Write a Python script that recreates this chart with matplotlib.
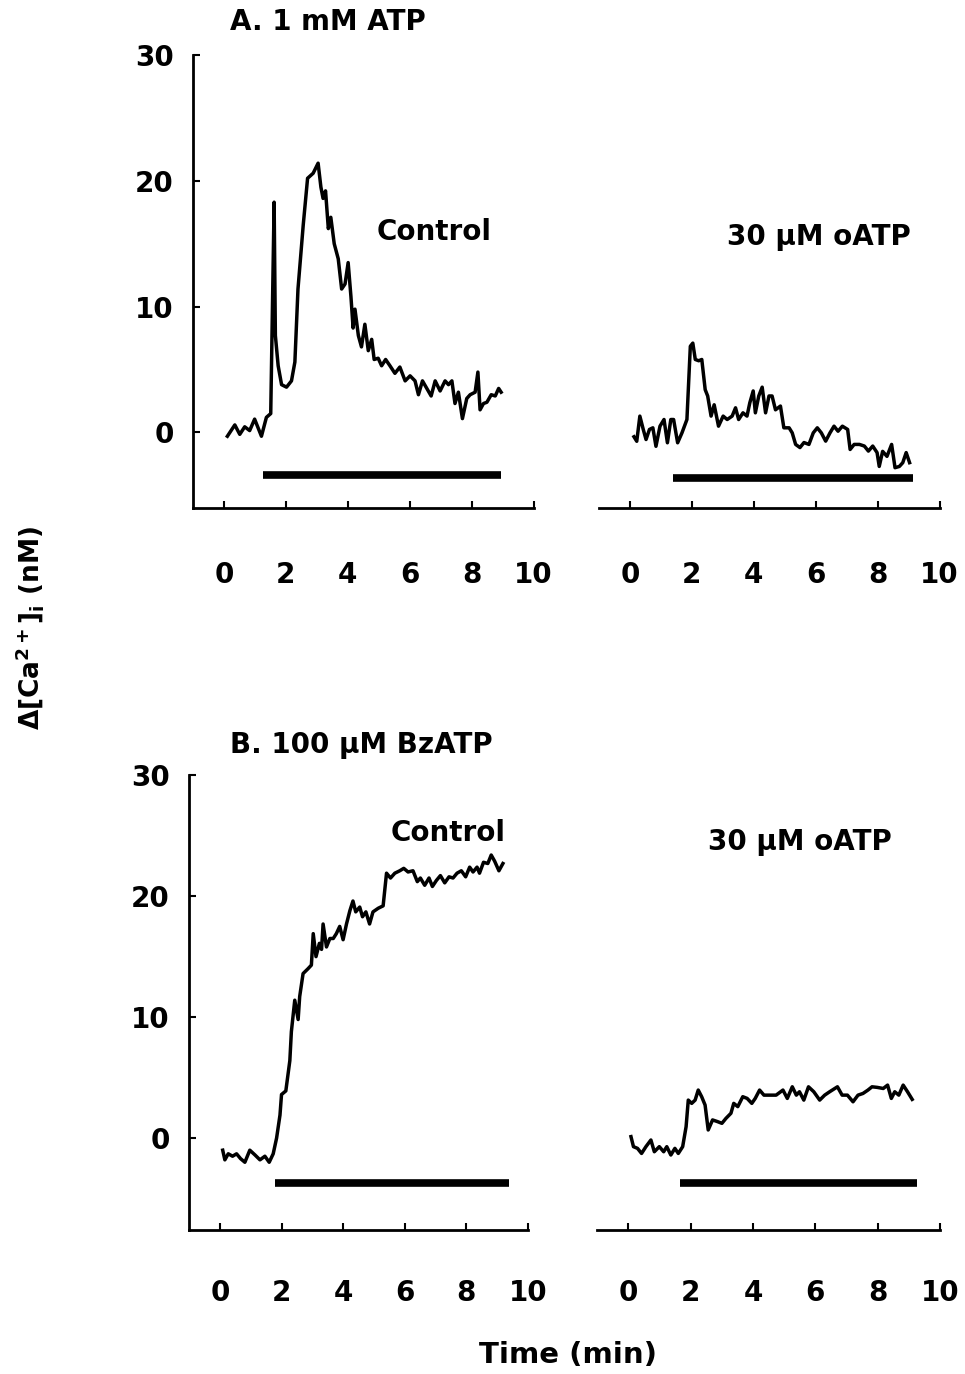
import matplotlib as mpl
mpl.use('Agg')
import matplotlib.pyplot as plt
from matplotlib import rcParams

rcParams['font.family'] = ['DejaVu Sans']
rcParams['font.weight'] = 'bold'
rcParams['mathtext.fontset'] = 'dejavusans'
rcParams['mathtext.default'] = 'bf'

# ── Data (time in min, delta Ca in nM) ────────────────────────────────────
# A. 1 mM ATP, control
a_ctrl_t = [0.11, 0.35, 0.51, 0.67, 0.83, 0.99, 1.21, 1.37, 1.51, 1.62, 1.66, 1.75,
            1.86, 2.02, 2.18, 2.29, 2.39, 2.56, 2.70, 2.88, 3.04, 3.13, 3.20, 3.28,
            3.37, 3.45, 3.56, 3.69, 3.80, 3.91, 4.01, 4.10, 4.17, 4.23, 4.34, 4.44,
            4.55, 4.66, 4.77, 4.85, 4.98, 5.09, 5.22, 5.36, 5.52, 5.68, 5.85, 6.01,
            6.17, 6.28, 6.41, 6.55, 6.69, 6.82, 6.98, 7.14, 7.25, 7.36, 7.46, 7.57,
            7.70, 7.84, 7.95, 8.11, 8.20, 8.27, 8.38, 8.49, 8.63, 8.76, 8.87, 8.95]
a_ctrl_y = [-0.3, 0.6, -0.15, 0.45, 0.15, 1.06, -0.3, 1.2, 1.5, 18.3, 7.7, 5.3,
            3.8, 3.6, 4.1, 5.6, 11.4, 16.5, 20.2, 20.6, 21.4, 19.5, 18.6, 19.2,
            16.2, 17.1, 15.0, 13.8, 11.4, 11.8, 13.5, 10.8, 8.3, 9.8, 7.7, 6.8,
            8.6, 6.5, 7.4, 5.8, 5.9, 5.3, 5.8, 5.3, 4.7, 5.2, 4.1, 4.5,
            4.1, 3.0, 4.1, 3.5, 2.9, 4.1, 3.3, 4.1, 3.8, 4.1, 2.3, 3.2,
            1.1, 2.7, 3.0, 3.2, 4.8, 1.8, 2.3, 2.4, 3.0, 2.9, 3.5, 3.2]

# A. 1 mM ATP, 30 uM oATP
a_oatp_t = [0.13, 0.22, 0.32, 0.43, 0.52, 0.63, 0.74, 0.84, 0.97, 1.10, 1.21, 1.32,
            1.41, 1.54, 1.68, 1.84, 1.95, 2.03, 2.11, 2.22, 2.32, 2.43, 2.51, 2.62,
            2.72, 2.86, 3.01, 3.14, 3.30, 3.41, 3.51, 3.65, 3.78, 3.87, 3.98, 4.05,
            4.16, 4.27, 4.38, 4.49, 4.59, 4.70, 4.86, 4.97, 5.14, 5.24, 5.35, 5.49,
            5.62, 5.78, 5.92, 6.05, 6.18, 6.32, 6.46, 6.59, 6.72, 6.86, 7.03, 7.11,
            7.24, 7.41, 7.57, 7.70, 7.84, 7.98, 8.05, 8.16, 8.30, 8.45, 8.56, 8.70,
            8.81, 8.92, 9.03]
a_oatp_y = [-0.34, -0.7, 1.3, 0.24, -0.56, 0.24, 0.37, -1.1, 0.5, 1.03, -0.82, 1.03,
            1.03, -0.82, -0.03, 1.03, 6.85, 7.1, 5.8, 5.7, 5.8, 3.4, 2.9, 1.3,
            2.2, 0.5, 1.3, 1.03, 1.3, 1.96, 1.03, 1.56, 1.3, 2.35, 3.3, 1.56,
            2.9, 3.6, 1.56, 2.9, 2.9, 1.8, 2.1, 0.37, 0.37, -0.03, -0.95, -1.2,
            -0.8, -0.95, -0.03, 0.37, -0.03, -0.69, -0.03, 0.5, 0.1, 0.5, 0.24, -1.35,
            -0.95, -0.95, -1.08, -1.48, -1.08, -1.6, -2.7, -1.5, -1.9, -0.95, -2.8, -2.7,
            -2.4, -1.6, -2.4]

# B. 100 uM BzATP, control
b_ctrl_t = [0.09, 0.16, 0.27, 0.41, 0.54, 0.67, 0.81, 0.97, 1.14, 1.30, 1.46, 1.60,
            1.73, 1.84, 1.95, 2.00, 2.14, 2.27, 2.32, 2.43, 2.54, 2.59, 2.70, 2.86,
            2.97, 3.03, 3.12, 3.23, 3.30, 3.35, 3.46, 3.57, 3.68, 3.78, 3.89, 4.00,
            4.11, 4.22, 4.32, 4.41, 4.54, 4.63, 4.74, 4.86, 4.97, 5.14, 5.30, 5.41,
            5.54, 5.68, 5.84, 5.97, 6.11, 6.27, 6.41, 6.51, 6.65, 6.79, 6.90, 7.03,
            7.16, 7.30, 7.44, 7.57, 7.70, 7.84, 7.98, 8.11, 8.22, 8.35, 8.43, 8.56,
            8.70, 8.81, 8.92, 9.06, 9.19]
b_ctrl_y = [-1.0, -1.8, -1.3, -1.5, -1.3, -1.7, -2.0, -1.0, -1.4, -1.8, -1.5, -2.0,
            -1.3, 0.0, 1.9, 3.6, 3.9, 6.4, 8.8, 11.4, 9.8, 11.7, 13.6, 14.0,
            14.3, 16.9, 15.0, 16.1, 15.6, 17.7, 15.8, 16.5, 16.5, 16.9, 17.5, 16.4,
            17.7, 18.8, 19.6, 18.7, 19.1, 18.3, 18.7, 17.7, 18.7, 19.0, 19.2, 21.9,
            21.5, 21.9, 22.1, 22.3, 22.0, 22.1, 21.2, 21.5, 20.9, 21.5, 20.8, 21.3,
            21.7, 21.1, 21.6, 21.5, 21.9, 22.1, 21.6, 22.4, 22.0, 22.4, 21.9, 22.8,
            22.7, 23.4, 22.9, 22.1, 22.7]

# B. 100 uM BzATP, 30 uM oATP
b_oatp_t = [0.08, 0.16, 0.29, 0.42, 0.56, 0.72, 0.83, 0.99, 1.13, 1.23, 1.36, 1.49,
            1.60, 1.74, 1.85, 1.92, 2.03, 2.14, 2.24, 2.35, 2.46, 2.56, 2.70, 2.86,
            3.00, 3.13, 3.29, 3.38, 3.51, 3.67, 3.81, 3.96, 4.07, 4.21, 4.35, 4.53,
            4.74, 4.96, 5.10, 5.26, 5.39, 5.49, 5.63, 5.78, 5.95, 6.14, 6.30, 6.46,
            6.71, 6.86, 7.03, 7.21, 7.37, 7.53, 7.69, 7.82, 7.99, 8.18, 8.32, 8.44,
            8.55, 8.68, 8.82, 8.96, 9.11]
b_oatp_y = [0.12, -0.71, -0.85, -1.27, -0.71, -0.16, -1.13, -0.71, -1.13, -0.71, -1.4, -0.85,
            -1.27, -0.71, 0.94, 3.14, 2.87, 3.14, 3.97, 3.42, 2.73, 0.67, 1.5, 1.36,
            1.22, 1.63, 2.05, 2.87, 2.6, 3.42, 3.28, 2.87, 3.28, 3.97, 3.55, 3.55,
            3.55, 3.97, 3.28, 4.24, 3.55, 3.83, 3.14, 4.24, 3.83, 3.14, 3.55, 3.83,
            4.24, 3.55, 3.55, 3.0, 3.55, 3.69, 3.97, 4.24, 4.19, 4.1, 4.38, 3.28,
            3.83, 3.55, 4.38, 3.83, 3.2]

# agonist application bars: [start, end] in min, level in nM
a_ctrl_bar, a_ctrl_bar_y = [1.25, 8.95], -3.4
a_oatp_bar, a_oatp_bar_y = [1.40, 9.15], -3.6
b_ctrl_bar, b_ctrl_bar_y = [1.78, 9.38], -3.7
b_oatp_bar, b_oatp_bar_y = [1.66, 9.25], -3.7

x_ticks = [0, 2, 4, 6, 8, 10]
y_ticks = [0, 10, 20, 30]

FS = 20
LW_AX = 2.0

fig = plt.figure(figsize=(9.65, 13.74), dpi=100)

ax_a1 = fig.add_axes([0.200, 0.6303, 0.353, 0.3297])
ax_a2 = fig.add_axes([0.6207, 0.6303, 0.353, 0.3297])
ax_b1 = fig.add_axes([0.196, 0.1048, 0.351, 0.3310])
ax_b2 = fig.add_axes([0.619, 0.1048, 0.355, 0.3310])

panels = [
    (ax_a1, a_ctrl_t, a_ctrl_y, a_ctrl_bar, a_ctrl_bar_y, (-6, 30), True, 38),
    (ax_a2, a_oatp_t, a_oatp_y, a_oatp_bar, a_oatp_bar_y, (-6, 30), False, 38),
    (ax_b1, b_ctrl_t, b_ctrl_y, b_ctrl_bar, b_ctrl_bar_y, (-7.6, 30), True, 35),
    (ax_b2, b_oatp_t, b_oatp_y, b_oatp_bar, b_oatp_bar_y, (-7.6, 30), False, 35),
]

for ax, t, y, bar, bar_y, ylim, show_y, xpad in panels:
    ax.plot(t, y, color='black', lw=2.5, solid_joinstyle='round')
    ax.plot(bar, [bar_y, bar_y], color='black', lw=5.5, solid_capstyle='butt')
    ax.set_xlim(-1, 10)
    ax.set_ylim(*ylim)
    ax.set_xticks(x_ticks)
    ax.spines['top'].set_visible(False)
    ax.spines['right'].set_visible(False)
    ax.spines['bottom'].set_linewidth(LW_AX)
    ax.spines['left'].set_linewidth(LW_AX)
    ax.tick_params(axis='x', direction='in', length=5, width=1.5,
                   pad=xpad, labelsize=FS)
    if show_y:
        ax.set_yticks(y_ticks)
        ax.tick_params(axis='y', direction='in', length=5, width=1.5,
                       pad=14, labelsize=FS)
    else:
        ax.spines['left'].set_visible(False)
        ax.set_yticks([])
    for lab in ax.get_xticklabels() + ax.get_yticklabels():
        lab.set_fontweight('bold')

ax_a1.text(6.8, 15.9, 'Control', ha='center', va='center', fontsize=FS, fontweight='bold')
ax_a2.text(6.1, 15.5, '30 µM oATP', ha='center', va='center', fontsize=FS, fontweight='bold')
ax_b1.text(7.4, 25.2, 'Control', ha='center', va='center', fontsize=FS, fontweight='bold')
ax_b2.text(5.5, 24.5, '30 µM oATP', ha='center', va='center', fontsize=FS, fontweight='bold')

fig.text(230 / 965, 1 - 22 / 1374, 'A. 1 mM ATP', ha='left', va='center',
         fontsize=FS, fontweight='bold')
fig.text(230 / 965, 1 - 745 / 1374, 'B. 100 µM BzATP', ha='left', va='center',
         fontsize=FS, fontweight='bold')
fig.text(568 / 965, 1 - 1355 / 1374, 'Time (min)', ha='center', va='center',
         fontsize=FS + 1, fontweight='bold')
fig.text(30 / 965, 1 - 628 / 1374, r'Δ[Ca$^{2+}$]$_{i}$ (nM)', ha='center', va='center',
         rotation=90, fontsize=FS - 1, fontweight='bold')

plt.savefig('out.png', dpi=100)
plt.close(fig)
